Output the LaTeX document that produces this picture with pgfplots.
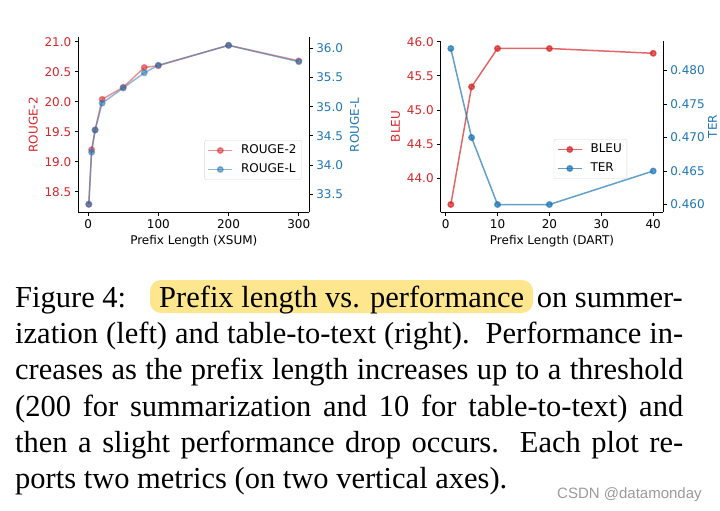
\documentclass[border=0pt]{standalone}
\usepackage{pgfplots}
\pgfplotsset{compat=1.18}
\usepackage{fontspec}
\setmainfont{Liberation Serif}
\newfontfamily\djv{DejaVu Sans}
\newfontfamily\wm{Liberation Sans}

\definecolor{tabred}{HTML}{D62728}
\definecolor{tabblue}{HTML}{1F77B4}
\definecolor{hl}{HTML}{FDE68E}
\definecolor{wmgray}{HTML}{9A9A9A}

\pgfplotsset{
  mpl/.style={
    scale only axis,
    tick align=outside,
    major tick length=3.5pt,
    axis line style={line width=0.8pt},
    every tick/.style={black, line width=0.8pt},
    tick label style={font=\djv\fontsize{12}{14}\selectfont},
    label style={font=\djv\fontsize{12}{14}\selectfont},
    /pgf/number format/assume math mode=true,
    legend style={font=\djv\fontsize{12}{14}\selectfont, draw=black!15,
                  rounded corners=2pt, fill=white, fill opacity=0.8, text opacity=1,
                  inner xsep=3pt, inner ysep=2.5pt, row sep=3.5pt,
                  nodes={inner sep=2pt, text height=9pt, text depth=2.5pt}},
    legend cell align=left,
    legend image code/.code={
      \draw[mark repeat=2, mark phase=2, #1] plot coordinates {(0pt,0pt) (12pt,0pt) (24pt,0pt)};
      \path (30pt,0pt);
    },
  },
  onedec/.style={/pgf/number format/fixed, /pgf/number format/fixed zerofill,
                 /pgf/number format/precision=1},
}

\begin{document}
\begin{tikzpicture}
\useasboundingbox (0,0) rectangle (720pt,-511pt);

% ---- left: XSUM ----
\begin{axis}[mpl, at={(78.3pt,-212.3pt)}, anchor=south west,
    width=231pt, height=175pt,
    axis x line*=bottom, axis y line*=left,
    xmin=-13.95, xmax=314.95, ymin=18.157, ymax=21.073,
    xtick={0,100,200,300},
    ytick={18.5,19.0,19.5,20.0,20.5,21.0},
    yticklabel style={text=tabred, onedec},
    xlabel={Prefix Length (XSUM)}, ylabel={ROUGE-2},
    ylabel style={text=tabred}]
\addplot[tabred, opacity=0.5, line width=1.5pt, mark=*, mark size=2.7pt] coordinates {
  (1,18.29) (5,19.20) (10,19.53) (20,20.04) (50,20.24)
  (80,20.57) (100,20.60) (200,20.94) (300,20.68)
};
\end{axis}
\begin{axis}[mpl, at={(78.3pt,-212.3pt)}, anchor=south west,
    width=231pt, height=175pt,
    axis y line*=right, axis x line=none,
    xmin=-13.95, xmax=314.95, ymin=33.192, ymax=36.188,
    ytick={33.5,34.0,34.5,35.0,35.5,36.0},
    yticklabel style={text=tabblue, onedec},
    ylabel={ROUGE-L}, ylabel style={text=tabblue},
    legend style={at={(0.967,0.413)}, anchor=north east}]
\addlegendimage{tabred, opacity=0.5, line width=1.5pt, mark=*, mark size=2.7pt}
\addlegendentry{ROUGE-2}
\addplot[tabblue, opacity=0.5, line width=1.5pt, mark=*, mark size=2.7pt] coordinates {
  (1,33.33) (5,34.22) (10,34.60) (20,35.06) (50,35.32)
  (80,35.58) (100,35.71) (200,36.05) (300,35.77)
};
\addlegendentry{ROUGE-L}
\end{axis}

% ---- right: DART ----
\begin{axis}[mpl, at={(440.7pt,-212.3pt)}, anchor=south west,
    width=222.6pt, height=171.6pt,
    axis x line*=bottom, axis y line*=left,
    xmin=-0.95, xmax=41.95, ymin=43.506, ymax=46.014,
    xtick={0,10,20,30,40},
    ytick={44.0,44.5,45.0,45.5,46.0},
    yticklabel style={text=tabred, onedec},
    xlabel={Prefix Length (DART)}, ylabel={BLEU},
    ylabel style={text=tabred}]
\addplot[tabred, opacity=0.7, line width=1.5pt, mark=*, mark size=2.7pt] coordinates {
  (1,43.62) (5,45.34) (10,45.90) (20,45.90) (40,45.83)
};
\end{axis}
\begin{axis}[mpl, at={(440.7pt,-212.3pt)}, anchor=south west,
    width=222.6pt, height=171.6pt,
    axis y line*=right, axis x line=none,
    xmin=-0.95, xmax=41.95, ymin=0.458835, ymax=0.484465,
    ytick={0.460,0.465,0.470,0.475,0.480},
    yticklabel style={text=tabblue, /pgf/number format/fixed,
      /pgf/number format/fixed zerofill, /pgf/number format/precision=3},
    ylabel={TER}, ylabel style={text=tabblue}, ylabel shift=-3.5pt,
    legend style={at={(0.837,0.427)}, anchor=north east}]
\addlegendimage{tabred, opacity=0.7, line width=1.5pt, mark=*, mark size=2.7pt}
\addlegendentry{BLEU}
\addplot[tabblue, opacity=0.7, line width=1.5pt, mark=*, mark size=2.7pt] coordinates {
  (1,0.4833) (5,0.4700) (10,0.4600) (20,0.4600) (40,0.4650)
};
\addlegendentry{TER}
\end{axis}

% ---- caption ----
\fill[hl, rounded corners=11pt] (150pt,-280pt) rectangle (533pt,-313pt);
\begin{scope}[every node/.style={inner sep=0pt, font=\fontsize{30.5}{36}\selectfont}]
\node[anchor=base west] at (15pt,-307.7pt) {Figure 4:};
\node[anchor=base west] at (159pt,-307.7pt) {Prefix length vs. performance};
\node[anchor=base east] at (683pt,-307.7pt) {on summer-};
\node[anchor=base west] at (15pt,-343.8pt) {\makebox[668pt][s]{ization (left) and table-to-text (right).\ \ Performance in-}};
\node[anchor=base west] at (15pt,-379.9pt) {\makebox[668pt][s]{creases as the prefix length increases up to a threshold}};
\node[anchor=base west] at (15pt,-416.0pt) {\makebox[668pt][s]{(200 for summarization and 10 for table-to-text) and}};
\node[anchor=base west] at (15pt,-452.1pt) {\makebox[668pt][s]{then a slight performance drop occurs.\ \ Each plot re-}};
\node[anchor=base west] at (15pt,-488.2pt) {ports two metrics (on two vertical axes).};
\end{scope}
\node[anchor=base west, inner sep=0pt, text=wmgray, font=\wm\fontsize{15}{18}\selectfont]
  at (557pt,-498pt) {CSDN @datamonday};
\end{tikzpicture}
\end{document}
